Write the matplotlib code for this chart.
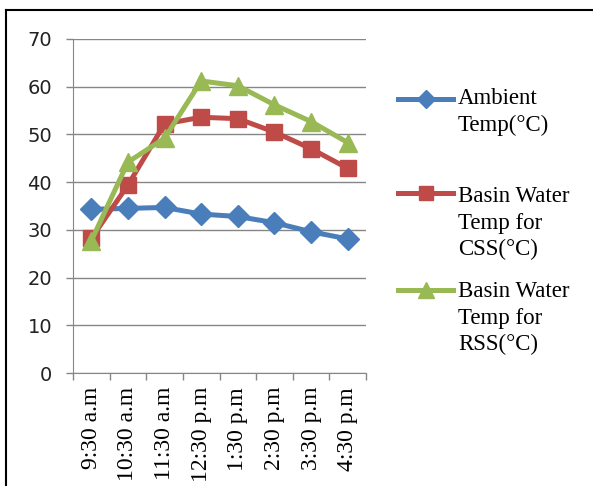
import matplotlib
matplotlib.use("Agg")
import matplotlib.pyplot as plt
from matplotlib.lines import Line2D
import numpy as np

times = ["9:30 a.m", "10:30 a.m", "11:30 a.m", "12:30 p.m",
         "1:30 p.m", "2:30 p.m", "3:30 p.m", "4:30 p.m"]
ambient = [34.3, 34.5, 34.7, 33.3, 32.8, 31.5, 29.6, 28.1]
basin_css = [28.2, 39.4, 52.2, 53.6, 53.3, 50.5, 47.0, 42.9]
basin_rss = [27.7, 44.2, 49.2, 61.2, 60.2, 56.2, 52.7, 48.3]

series = [
    (ambient, "Ambient\nTemp(°C)", "#4A7EBB", "D", 11),
    (basin_css, "Basin Water\nTemp for\nCSS(°C)", "#BE4B48", "s", 11.5),
    (basin_rss, "Basin Water\nTemp for\nRSS(°C)", "#98B954", "^", 13),
]

W, H = 593, 486
fig = plt.figure(figsize=(W / 100, H / 100), dpi=100)
ax = fig.add_axes([73 / W, 1 - 373 / H, (366 - 73) / W, (373 - 39) / H])

x = np.arange(len(times))
for values, label, color, marker, ms in series:
    ax.plot(x, values, color=color, lw=3.6, marker=marker, ms=ms,
            markeredgecolor=color, solid_joinstyle="round")

ax.set_xlim(-0.5, len(times) - 0.5)
ax.set_ylim(0, 70)
ax.set_yticks(range(0, 71, 10))
ax.yaxis.grid(True, color="#868686", lw=1)
ax.set_axisbelow(True)

ax.set_xticks(x)
ax.set_xticklabels(times, rotation=90, fontfamily="Liberation Serif", fontsize=17)
ax.set_xticks(np.arange(-0.5, len(times)), minor=True)
ax.tick_params(axis="x", which="major", length=0, pad=10)
ax.tick_params(axis="x", which="minor", length=5, color="#868686", width=1)
ax.tick_params(axis="y", length=5, color="#868686", width=1, labelsize=14,
               labelcolor="#222222", pad=10)

for side in ("top", "right"):
    ax.spines[side].set_visible(False)
for side in ("left", "bottom"):
    ax.spines[side].set_color("#868686")

# hand-placed legend to follow the uneven spacing of the original
handle_y = [99, 193, 290]
text_y = [98, 196, 291]
for (values, label, color, marker, ms), hy, ty in zip(series, handle_y, text_y):
    fy = 1 - hy / H
    fig.add_artist(Line2D([398 / W, 453 / W], [fy, fy], color=color, lw=3.6,
                          transform=fig.transFigure))
    fig.add_artist(Line2D([425.5 / W], [fy], color=color, marker=marker, ms=ms - 2,
                          transform=fig.transFigure))
    fig.text(458 / W, 1 - (ty - 10) / H, label, fontfamily="Liberation Serif",
             fontsize=16.5, va="top", ha="left", linespacing=1.35)

# frame of the original picture (top and left edges only)
fig.add_artist(Line2D([6 / W, 1], [1 - 10 / H, 1 - 10 / H], color="black", lw=1.5,
                      transform=fig.transFigure))
fig.add_artist(Line2D([6 / W, 6 / W], [0, 1 - 10 / H], color="black", lw=1.5,
                      transform=fig.transFigure))

fig.savefig("out.png", dpi=100)
